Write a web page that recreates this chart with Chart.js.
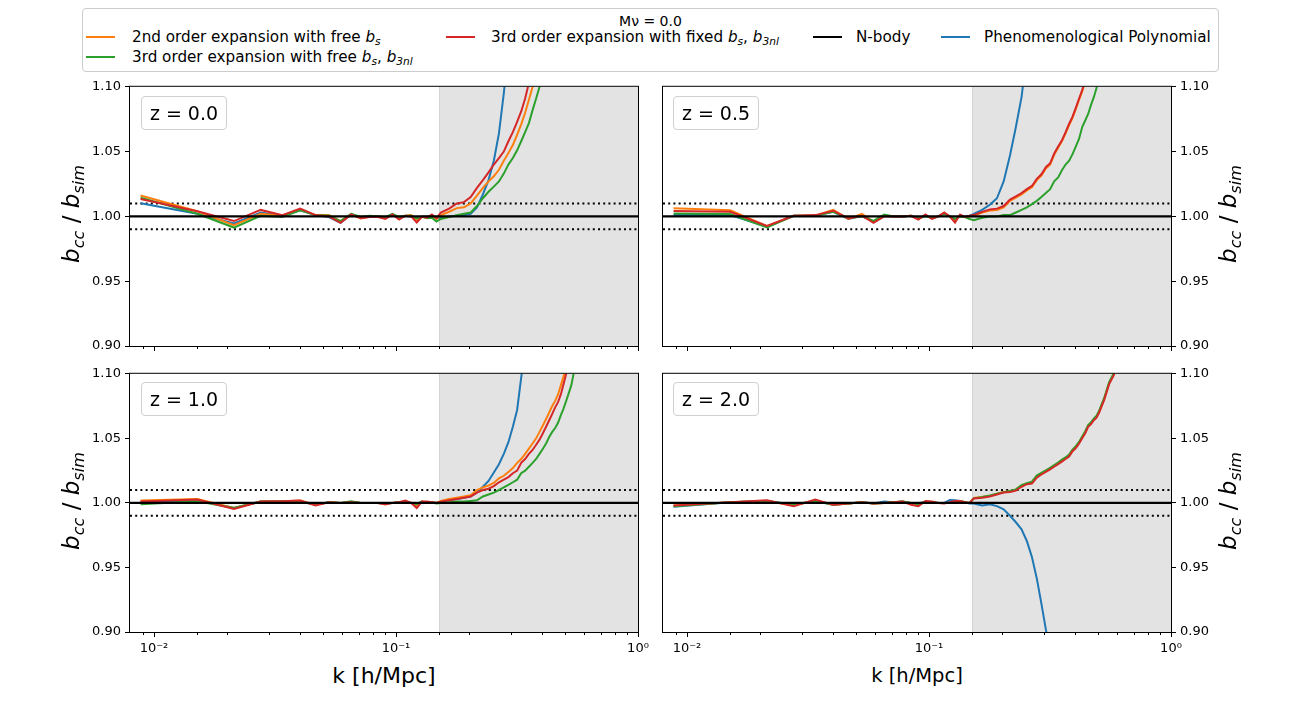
<!DOCTYPE html>
<html>
<head>
<meta charset="utf-8">
<script src="https://cdn.jsdelivr.net/npm/chart.js@4.4.1/dist/chart.umd.min.js"></script>
<style>
  body { margin: 0; background: #fff; font-family: "DejaVu Sans", sans-serif; color: #000; }
  #page { position: relative; width: 1301px; height: 710px; overflow: hidden; }
  canvas { position: absolute; }
  .legend { position: absolute; left: 82px; top: 8px; width: 1135px; height: 62px; border: 1px solid #cccccc; border-radius: 4px; }
  .lg-title { position: absolute; left: 0; width: 100%; top: 4px; text-align: center; font-size: 14px; }
  .item { position: absolute; font-size: 15.2px; white-space: nowrap; line-height: 18px; }
  .handle { position: absolute; height: 2px; width: 29px; }
  .m { font-style: italic; }
  sub { font-size: 0.7em; vertical-align: -0.3em; line-height: 0; }
  .zbox { position: absolute; width: 84px; height: 32px; border: 1px solid #d0d0d0; border-radius: 4px;
          background: rgba(255,255,255,0.8); font-size: 19px; display: flex; align-items: center; justify-content: center; }
  .ytitle { position: absolute; font-size: 23px; white-space: nowrap; transform: translate(-50%, -50%) rotate(-90deg); }
  .xtitle { position: absolute; white-space: nowrap; transform: translate(-50%, -50%); }
</style>
</head>
<body>
<div id="page">
  <div class="legend"><div class="lg-title">M&nu; = 0.0</div></div>

  <div class="handle" style="left:86px;top:36px;background:#ff7f0e"></div>
  <div class="item" style="left:132px;top:28px">2nd order expansion with free <span class="m">b<sub>s</sub></span></div>
  <div class="handle" style="left:446px;top:36px;background:#d62728"></div>
  <div class="item" style="left:491px;top:28px">3rd order expansion with fixed <span class="m">b<sub>s</sub></span>, <span class="m">b<sub>3nl</sub></span></div>
  <div class="handle" style="left:813px;top:36px;background:#000"></div>
  <div class="item" style="left:856px;top:28px">N-body</div>
  <div class="handle" style="left:941px;top:36px;background:#1f77b4"></div>
  <div class="item" style="left:984px;top:28px">Phenomenological Polynomial</div>
  <div class="handle" style="left:86px;top:56px;background:#2ca02c"></div>
  <div class="item" style="left:132px;top:48px">3rd order expansion with free <span class="m">b<sub>s</sub></span>, <span class="m">b<sub>3nl</sub></span></div>

  <canvas id="p0" width="600" height="285" style="left:60px;top:75px"></canvas>
  <canvas id="p1" width="580" height="285" style="left:653px;top:75px"></canvas>
  <canvas id="p2" width="600" height="300" style="left:60px;top:362px"></canvas>
  <canvas id="p3" width="580" height="300" style="left:653px;top:362px"></canvas>

  <div class="zbox" id="z0" style="left:141px;top:96px"></div>
  <div class="zbox" id="z1" style="left:673px;top:96px"></div>
  <div class="zbox" id="z2" style="left:141px;top:382px"></div>
  <div class="zbox" id="z3" style="left:673px;top:382px"></div>

  <div class="ytitle" style="left:71px;top:214px"><span class="m">b<sub>cc</sub></span> / <span class="m">b<sub>sim</sub></span></div>
  <div class="ytitle" style="left:71px;top:501px"><span class="m">b<sub>cc</sub></span> / <span class="m">b<sub>sim</sub></span></div>
  <div class="ytitle" style="left:1228px;top:214px"><span class="m">b<sub>cc</sub></span> / <span class="m">b<sub>sim</sub></span></div>
  <div class="ytitle" style="left:1228px;top:501px"><span class="m">b<sub>cc</sub></span> / <span class="m">b<sub>sim</sub></span></div>

  <div class="xtitle" style="left:384px;top:675px;font-size:22px">k [h/Mpc]</div>
  <div class="xtitle" style="left:917px;top:675px;font-size:19.5px">k [h/Mpc]</div>
</div>

<script>
// k bins (h/Mpc) shared by every curve
const kBins = [0.0088, 0.0151, 0.0214, 0.0276, 0.0339, 0.0402, 0.0465, 0.0528, 0.0590, 0.0653,
  0.0716, 0.0779, 0.0842, 0.0904, 0.0967, 0.1030, 0.1093, 0.1156, 0.1218, 0.1281,
  0.1344, 0.1407, 0.1470, 0.1532, 0.1658, 0.1784, 0.1909, 0.2035, 0.2161, 0.2286,
  0.2412, 0.2537, 0.2663, 0.2789, 0.2914, 0.3040, 0.3166, 0.3291, 0.3417, 0.3542,
  0.3668, 0.3794, 0.3919, 0.4045, 0.4171, 0.4296, 0.4422, 0.4547, 0.4673, 0.4799,
  0.4924, 0.5050, 0.5301, 0.5552, 0.5804, 0.6055];
const kLimits = [0.00796, 1.0];
const kShade = 0.15;
const yLimits = [0.90, 1.10];
const yTicks = [0.90, 0.95, 1.00, 1.05, 1.10];
const band = [0.99, 1.01];
const nbodyRatio = 1.0;
const redshifts = ['0.0', '0.5', '1.0', '2.0'];

// z = 0.0
const free2_z00 = [1.0161, 1.004, 0.9932, 1.002, 1.0005, 1.0052, 1.001, 1.001, 0.9964, 1.0015, 0.9985, 1.0, 1.0, 0.999, 1.0015, 0.9985, 1.0005, 1.001, 0.997, 0.9997, 0.9995, 1.0005, 0.998,
  1.001, 1.0036, 1.0064, 1.007, 1.010, 1.016, 1.022, 1.027, 1.031, 1.036, 1.043, 1.049, 1.055, 1.063, 1.071, 1.080, 1.090, 1.100, 1.112];
const free3_z00 = [1.0145, 1.002, 0.9914, 1.0005, 0.9995, 1.0047, 1.001, 1.0005, 0.9964, 1.002, 0.9995, 1.0005, 1.0, 0.9995, 1.002, 0.9995, 1.0005, 1.0005, 0.9985, 0.9997, 0.9985, 0.999, 0.996,
  0.998, 0.9995, 1.001, 1.002, 1.003, 1.008, 1.014, 1.019, 1.023, 1.027, 1.033, 1.040, 1.045, 1.051, 1.058, 1.065, 1.072, 1.082, 1.091, 1.100, 1.112];
const fixed3_z00 = [1.0135, 1.004, 0.9964, 1.005, 1.001, 1.006, 1.001, 1.0, 0.995, 1.0015, 0.9985, 0.9995, 0.9995, 0.998, 1.0015, 0.9975, 1.0005, 1.0, 0.9953, 0.9997, 0.999, 1.0015, 0.9985,
  1.003, 1.006, 1.010, 1.011, 1.015, 1.022, 1.028, 1.034, 1.040, 1.045, 1.050, 1.058, 1.065, 1.073, 1.081, 1.091, 1.103, 1.120];
const poly_z00 = [1.0101, 1.002, 0.9945, 1.003, 1.0005, 1.0047, 1.001, 0.9995, 0.995, 1.0015, 0.999, 1.0, 1.0, 0.999, 1.0015, 0.9985, 1.0005, 1.0, 0.998, 0.9997, 1.0, 1.0, 0.9985,
  0.999, 1.0, 1.0005, 1.001, 1.002, 1.007, 1.017, 1.028, 1.043, 1.064, 1.095, 1.130];

// z = 0.5
const free2_z05 = [1.0062, 1.0047, 0.9925, 1.0005, 1.0005, 1.005, 0.998, 1.002, 0.996, 1.0005, 1.0, 1.0, 1.0005, 0.998, 1.001, 0.9985, 1.0, 1.0025, 1.0, 0.9964, 1.001, 0.9995, 1.0,
  1.0005, 1.003, 1.0045, 1.005, 1.007, 1.012, 1.0145, 1.017, 1.020, 1.0225, 1.028, 1.0315, 1.037, 1.040, 1.0475, 1.053, 1.058, 1.064, 1.0705, 1.076, 1.083, 1.090, 1.0965, 1.104];
const free3_z05 = [1.0023, 1.0018, 0.9914, 1.0005, 1.0005, 1.0036, 0.9985, 1.0, 0.9965, 1.0015, 1.0, 1.0, 1.0005, 0.9985, 1.0, 0.999, 1.0, 1.002, 1.0, 0.998, 1.0, 0.9995, 0.998,
  0.997, 0.999, 1.0, 1.0, 1.001, 1.001, 1.003, 1.005, 1.007, 1.0095, 1.012, 1.015, 1.018, 1.021, 1.027, 1.030, 1.0356, 1.040, 1.043, 1.048, 1.054, 1.060, 1.069, 1.074, 1.079, 1.086, 1.092, 1.099, 1.110];
const fixed3_z05 = [1.0042, 1.0036, 0.9927, 1.0005, 1.001, 1.0044, 0.9985, 1.0005, 0.995, 1.0, 1.0, 1.0, 1.0005, 0.9975, 1.0015, 0.998, 1.0, 1.003, 1.0, 0.9953, 1.0015, 0.9995, 1.0005,
  1.001, 1.0035, 1.0054, 1.006, 1.008, 1.013, 1.0155, 1.018, 1.021, 1.0235, 1.029, 1.0325, 1.038, 1.041, 1.0485, 1.054, 1.0587, 1.065, 1.0715, 1.077, 1.084, 1.091, 1.0975, 1.105];
const poly_z05 = [1.001, 1.001, 0.992, 1.0005, 1.0005, 1.0036, 0.998, 1.0005, 0.996, 1.0005, 1.0, 1.0, 1.0005, 0.998, 1.001, 0.9985, 1.0, 1.0025, 1.0, 0.997, 1.001, 0.9995, 1.0005,
  1.002, 1.005, 1.009, 1.014, 1.027, 1.047, 1.069, 1.092, 1.125];

// z = 1.0
const free2_z10 = [1.0018, 1.003, 0.9961, 1.001, 1.0013, 1.0018, 0.9985, 1.0005, 1.0, 1.0005, 1.0, 1.0, 1.0, 0.9995, 1.0, 1.0005, 1.001, 1.0, 0.998, 1.001, 1.0, 1.0005, 1.0,
  1.0015, 1.003, 1.004, 1.005, 1.006, 1.010, 1.012, 1.0135, 1.0155, 1.019, 1.021, 1.024, 1.027, 1.031, 1.034, 1.038, 1.042, 1.046, 1.050, 1.055, 1.060, 1.065, 1.070, 1.075, 1.079, 1.084, 1.091, 1.098, 1.105];
const free3_z10 = [0.999, 1.0013, 0.9961, 1.001, 1.0013, 1.001, 0.9987, 1.0005, 1.0, 1.0013, 1.0, 1.0, 1.0, 0.9995, 1.0, 1.0005, 1.001, 1.0, 0.999, 1.001, 1.0, 1.0005, 0.9995,
  1.0, 1.0005, 1.001, 1.001, 1.0015, 1.002, 1.005, 1.0065, 1.008, 1.010, 1.012, 1.014, 1.016, 1.018, 1.023, 1.025, 1.028, 1.031, 1.034, 1.038, 1.042, 1.046, 1.051, 1.055, 1.058, 1.062, 1.068, 1.073, 1.079, 1.091, 1.110];
const fixed3_z10 = [1.001, 1.0026, 0.9953, 1.001, 1.0013, 1.0018, 0.998, 1.0005, 1.0, 1.0005, 1.0, 1.0, 1.0, 0.9987, 1.0, 1.0005, 1.0018, 1.0, 0.9961, 1.001, 1.001, 1.0005, 1.0,
  1.001, 1.002, 1.003, 1.004, 1.005, 1.008, 1.010, 1.011, 1.013, 1.016, 1.018, 1.020, 1.023, 1.025, 1.031, 1.034, 1.038, 1.041, 1.045, 1.049, 1.054, 1.059, 1.064, 1.069, 1.074, 1.078, 1.084, 1.092, 1.100, 1.115];
const poly_z10 = [1.0005, 1.002, 0.996, 1.001, 1.0013, 1.001, 0.9985, 1.0005, 1.0, 1.0005, 1.0, 1.0, 1.0, 0.9995, 1.0, 1.0005, 1.001, 1.0, 0.999, 1.001, 1.0, 1.0005, 1.0,
  1.001, 1.002, 1.003, 1.004, 1.005, 1.008, 1.0125, 1.017, 1.0236, 1.030, 1.038, 1.047, 1.059, 1.072, 1.097, 1.120];

// z = 2.0
const free2_z20 = [0.998, 1.0005, 1.0015, 0.998, 1.002, 0.9985, 0.9995, 1.0005, 0.9995, 1.0, 1.0005, 1.001, 1.0, 0.9985, 1.001, 1.0005, 1.0, 1.0, 1.0, 1.001, 1.0015, 1.0005, 1.0,
  1.0038, 1.0045, 1.0055, 1.0072, 1.0085, 1.009, 1.0103, 1.0136, 1.015, 1.016, 1.021, 1.023, 1.025, 1.027, 1.029, 1.031, 1.033, 1.035, 1.037, 1.041, 1.0436, 1.047, 1.051, 1.055, 1.060, 1.062, 1.065, 1.067, 1.071, 1.081, 1.093, 1.100, 1.110];
const free3_z20 = [0.9975, 1.0005, 1.0015, 0.9985, 1.0015, 0.9985, 0.9995, 1.0005, 0.9995, 1.0, 1.0005, 1.001, 1.0, 0.999, 1.001, 1.0005, 1.0, 1.0, 1.0, 1.001, 1.0015, 1.0005, 1.0,
  1.0035, 1.0045, 1.0058, 1.0072, 1.0082, 1.0092, 1.0105, 1.0138, 1.0152, 1.0165, 1.0212, 1.0232, 1.0252, 1.0272, 1.0292, 1.0312, 1.0335, 1.0352, 1.0375, 1.0412, 1.044, 1.0472, 1.0515, 1.0555, 1.0602, 1.0625, 1.0652, 1.0675, 1.0715, 1.0815, 1.0935, 1.1005, 1.111];
const fixed3_z20 = [0.998, 1.0005, 1.002, 0.9975, 1.0026, 0.9985, 0.9995, 1.0005, 0.9995, 1.0, 1.0005, 1.001, 0.9985, 0.9975, 1.0015, 1.001, 1.0, 0.9995, 1.0005, 1.0015, 1.0015, 1.0005, 1.0,
  1.0035, 1.004, 1.005, 1.0065, 1.008, 1.0085, 1.0095, 1.0125, 1.0145, 1.015, 1.0195, 1.022, 1.024, 1.026, 1.028, 1.030, 1.032, 1.034, 1.036, 1.040, 1.0425, 1.046, 1.050, 1.054, 1.059, 1.061, 1.064, 1.066, 1.070, 1.080, 1.092, 1.099, 1.109];
const poly_z20 = [0.997, 1.0005, 1.0015, 0.9985, 1.0015, 0.9985, 0.9995, 1.0005, 0.9995, 1.001, 1.0005, 1.001, 1.0, 1.0, 1.0005, 1.0, 1.0, 1.0, 1.0023, 1.002, 1.0015, 1.0005, 0.9995,
  0.9995, 0.998, 0.999, 0.9975, 0.995, 0.990, 0.985, 0.9795, 0.9705, 0.958, 0.9415, 0.922, 0.902, 0.885];

const free2All = [free2_z00, free2_z05, free2_z10, free2_z20];
const free3All = [free3_z00, free3_z05, free3_z10, free3_z20];
const fixed3All = [fixed3_z00, fixed3_z05, fixed3_z10, fixed3_z20];
const polyAll = [poly_z00, poly_z05, poly_z10, poly_z20];

const toPoints = (vals) => vals.map((v, i) => ({ x: kBins[i], y: v }));

// shade, dotted band, frame and log-scale tick marks
const decor = {
  id: 'decor',
  beforeDatasetsDraw(chart) {
    const { ctx, chartArea: a, scales: { x, y } } = chart;
    ctx.save();
    const xs = Math.round(x.getPixelForValue(kShade));
    ctx.fillStyle = '#e3e3e3';
    ctx.fillRect(xs, a.top, a.right - xs, a.bottom - a.top);
    ctx.fillStyle = '#d3d3d3';
    ctx.fillRect(xs, a.top, 1, a.bottom - a.top);
    ctx.strokeStyle = '#000';
    ctx.lineWidth = 2;
    ctx.setLineDash([2, 3.2]);
    band.forEach(v => {
      const py = y.getPixelForValue(v);
      ctx.beginPath();
      ctx.moveTo(a.left, py);
      ctx.lineTo(a.right, py);
      ctx.stroke();
    });
    ctx.restore();
  },
  afterDraw(chart) {
    const { ctx, chartArea: a, scales: { x } } = chart;
    ctx.save();
    ctx.strokeStyle = '#000';
    ctx.lineWidth = 1;
    ctx.strokeRect(a.left - 0.5, a.top - 0.5, a.right - a.left + 1, a.bottom - a.top + 1);
    x.ticks.forEach(t => {
      const px = Math.round(x.getPixelForValue(t.value)) + 0.5;
      if (px < a.left + 1 || px > a.right + 1) return;
      const lg = Math.log10(t.value);
      const len = Math.abs(lg - Math.round(lg)) < 1e-6 ? 5 : 3;
      ctx.beginPath();
      ctx.moveTo(px, a.bottom);
      ctx.lineTo(px, a.bottom + len);
      ctx.stroke();
    });
    ctx.restore();
  }
};

const supers = { '-2': '10\u207B\u00B2', '-1': '10\u207B\u00B9', '0': '10\u2070' };

function makePanel(idx) {
  const rightSide = idx % 2 === 1;
  const bottomRow = idx >= 2;
  document.getElementById('z' + idx).textContent = 'z = ' + redshifts[idx];
  const ds = (label, vals, color, order) => ({
    label, data: toPoints(vals), borderColor: color, backgroundColor: color,
    borderWidth: 2, pointRadius: 0, tension: 0, order, clip: 0
  });
  new Chart(document.getElementById('p' + idx), {
    type: 'line',
    data: {
      datasets: [
        ds('Phenomenological Polynomial', polyAll[idx], '#1f77b4', 5),
        ds('2nd order expansion with free bs', free2All[idx], '#ff7f0e', 4),
        ds('3rd order expansion with free bs, b3nl', free3All[idx], '#2ca02c', 3),
        ds('3rd order expansion with fixed bs, b3nl', fixed3All[idx], '#d62728', 2),
        { label: 'N-body', data: kLimits.map(k => ({ x: k, y: nbodyRatio })), borderColor: '#000',
          borderWidth: 2.2, pointRadius: 0, order: 1, clip: 0 }
      ]
    },
    options: {
      responsive: false,
      devicePixelRatio: 1,
      animation: false,
      events: [],
      layout: { padding: rightSide ? { left: 10, right: 0, top: 10, bottom: 0 } : { left: 0, right: 22, top: 10, bottom: 0 } },
      plugins: { legend: { display: false }, tooltip: { enabled: false } },
      scales: {
        x: {
          type: 'logarithmic',
          min: kLimits[0],
          max: kLimits[1],
          afterFit: s => { s.height = bottomRow ? 30 : 14; },
          border: { display: false },
          grid: { drawOnChartArea: false, drawTicks: false },
          ticks: {
            autoSkip: false, maxRotation: 0, minRotation: 0, padding: 9,
            color: '#000', font: { family: 'DejaVu Sans', size: 13 },
            callback: (v) => {
              if (!bottomRow) return '';
              const lg = Math.log10(v);
              const r = Math.round(lg);
              return Math.abs(lg - r) < 1e-6 ? (supers[String(r)] || '') : '';
            }
          }
        },
        y: {
          position: rightSide ? 'right' : 'left',
          min: yLimits[0],
          max: yLimits[1],
          afterFit: s => { s.width = rightSide ? 62 : 70; },
          afterBuildTicks: s => { s.ticks = yTicks.map(v => ({ value: v })); },
          border: { display: false },
          grid: { drawOnChartArea: false, drawTicks: true, tickLength: 5, tickColor: '#000', color: '#000' },
          ticks: {
            padding: 4, color: '#000', font: { family: 'DejaVu Sans', size: 13 },
            callback: v => Number(v).toFixed(2)
          }
        }
      }
    },
    plugins: [decor]
  });
}

[0, 1, 2, 3].forEach(makePanel);
</script>
</body>
</html>
